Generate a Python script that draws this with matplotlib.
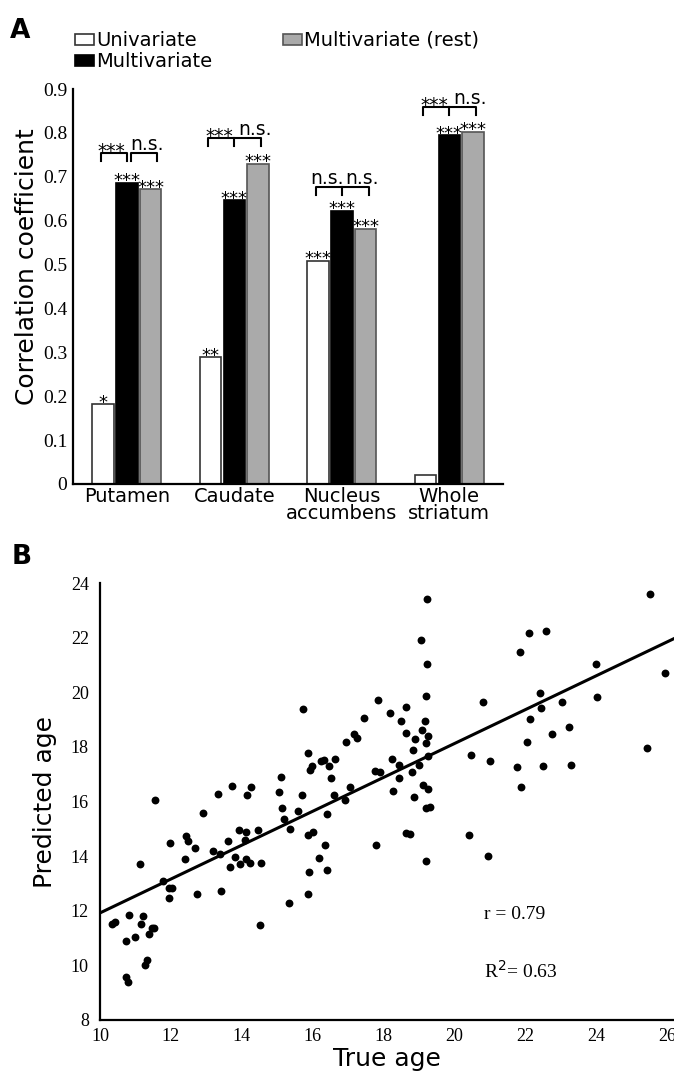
import numpy as np
import matplotlib
matplotlib.use('Agg')
import matplotlib.pyplot as plt

# ---- panel A data ----
regions = ['Putamen', 'Caudate', 'Nucleus\naccumbens', 'Whole\nstriatum']
uni = [0.182, 0.289, 0.509, 0.020]
multi = [0.686, 0.647, 0.623, 0.795]
rest = [0.672, 0.730, 0.582, 0.802]
uni_sig = ['*', '**', '***', '']
multi_sig = ['***', '***', '***', '***']
rest_sig = ['***', '***', '***', '***']
# comparison labels (uni vs multi, multi vs rest)
cmp_left = ['***', '***', 'n.s.', '***']
cmp_right = ['n.s.', 'n.s.', 'n.s.', 'n.s.']
bracket_top = [0.754, 0.788, 0.677, 0.859]

# ---- panel B data ----
true_age = [10.35, 10.41, 10.82, 10.72, 10.98, 11.21, 11.17, 11.37, 11.46, 11.53,
            11.32, 11.28, 10.74, 10.80, 11.14, 11.54, 11.79, 11.97, 11.95, 12.04,
            11.95, 12.39, 12.42, 12.49, 12.68, 12.74, 12.92, 13.18, 13.39, 13.33,
            13.42, 13.61, 13.72, 13.81, 13.66, 13.92, 14.13, 14.08, 13.96, 14.13,
            14.23, 14.16, 14.26, 14.45, 14.53, 14.51, 15.06, 15.12, 15.13, 15.19,
            15.37, 15.34, 15.59, 15.70,
            15.72, 15.86, 15.98, 15.94, 16.23, 16.33, 16.47, 16.63, 16.52, 16.94,
            17.16, 17.26, 17.44, 17.85, 18.19, 18.49, 18.65, 18.65, 18.90, 18.82,
            18.23, 17.76, 17.89, 18.45, 18.99, 18.80, 19.24, 19.06, 19.24, 19.20,
            19.16, 19.08, 19.25, 19.20, 19.25, 20.47, 20.80, 21.00,
            18.43, 18.28, 17.05, 16.91, 16.61, 16.40, 15.86, 16.00, 16.36, 16.18,
            15.89, 16.40, 15.88, 17.80, 19.12, 19.27, 18.87, 19.20, 19.31, 18.65,
            18.74, 19.20, 20.41, 20.96,
            25.53, 22.11, 22.58, 21.85, 24.01, 25.96, 22.41, 22.44, 23.05, 24.04,
            22.13, 23.23, 22.76, 22.05, 21.77, 22.51, 23.28, 21.89, 25.43]
pred_age = [11.50, 11.57, 11.85, 10.89, 11.03, 11.79, 11.50, 11.14, 11.37, 11.37,
            10.21, 10.01, 9.57, 9.40, 13.71, 16.05, 13.09, 14.49, 12.85, 12.85,
            12.46, 13.88, 14.73, 14.57, 14.31, 12.60, 15.58, 14.19, 14.08, 16.28,
            12.72, 14.54, 16.57, 13.97, 13.62, 14.97, 14.90, 14.60, 13.72, 13.91,
            13.74, 16.25, 16.52, 14.94, 13.76, 11.46, 16.33, 16.90, 15.76, 15.35,
            15.01, 12.29, 15.67, 16.24,
            19.37, 17.78, 17.31, 17.15, 17.50, 17.51, 17.29, 17.57, 16.85, 18.19,
            18.47, 18.32, 19.04, 19.73, 19.24, 18.93, 19.47, 18.49, 18.28, 17.88,
            17.55, 17.13, 17.09, 17.33, 17.33, 17.09, 23.43, 21.90, 21.04, 19.85,
            18.96, 18.63, 18.40, 18.16, 17.67, 17.71, 19.64, 17.48,
            16.87, 16.38, 16.53, 16.04, 16.25, 15.56, 14.79, 14.90, 14.40, 13.93,
            13.43, 13.51, 12.63, 14.40, 16.61, 16.44, 16.18, 15.78, 15.79, 14.85,
            14.82, 13.83, 14.79, 13.99,
            23.59, 22.18, 22.23, 21.49, 21.04, 20.71, 19.99, 19.41, 19.65, 19.84,
            19.02, 18.72, 18.47, 18.18, 17.26, 17.29, 17.35, 16.53, 17.96]
fit_slope = 0.62
fit_intercept = 5.72
r_value = 0.79
r2_value = 0.63

serif = ['Liberation Serif', 'DejaVu Serif']

fig = plt.figure(figsize=(6.74, 10.72), dpi=100)

# ================= panel A =================
ax = fig.add_axes([73/674, 1 - 484/1072, 430/674, 395/1072])
x = np.arange(len(regions))
off = 0.222
w = 0.2
b1 = ax.bar(x - off, uni, w, color='white', edgecolor='#333333', lw=1.2, label='Univariate')
b2 = ax.bar(x, multi, w, color='black', edgecolor='black', lw=1.2, label='Multivariate')
b3 = ax.bar(x + off, rest, w, color='#aaaaaa', edgecolor='#555555', lw=1.2,
            label='Multivariate (rest)')

for xs, vals, sig in [(x - off, uni, uni_sig), (x, multi, multi_sig), (x + off, rest, rest_sig)]:
    for xi, v, s in zip(xs, vals, sig):
        if s:
            ax.annotate(s, (xi, v), xytext=(0, -2.5), textcoords='offset points',
                        ha='center', va='baseline', fontsize=13)

blw = 1.5
leg = 0.018
for i in range(len(regions)):
    top = bracket_top[i]
    if i == 0:
        # two separate brackets for putamen
        ax.plot([i - 0.24, i - 0.24, i, i], [top - leg, top, top, top - leg],
                color='black', lw=blw)
        ax.plot([i + 0.04, i + 0.04, i + 0.28, i + 0.28], [top - leg, top, top, top - leg],
                color='black', lw=blw)
    else:
        ax.plot([i - 0.24, i - 0.24, i + 0.25, i + 0.25], [top - leg, top, top, top - leg],
                color='black', lw=blw)
        ax.plot([i, i], [top, top - leg], color='black', lw=blw)
    for dx, s in [(-0.14, cmp_left[i]), (0.19, cmp_right[i])]:
        dy = -3 if s.startswith('*') else 2
        ax.annotate(s, (i + dx, top), xytext=(0, dy), textcoords='offset points',
                    ha='center', va='baseline', fontsize=13.5)

ax.set_xlim(-0.5, 3.5)
ax.set_ylim(0, 0.9)
ax.set_yticks(np.arange(0, 0.91, 0.1))
ax.set_yticklabels(['0'] + ['%.1f' % v for v in np.arange(0.1, 0.91, 0.1)],
                   family=serif, fontsize=14)
ax.set_xticks(x)
ax.set_xticklabels(regions, fontsize=14, linespacing=0.85)
ax.tick_params(axis='both', length=0)
ax.tick_params(axis='y', pad=4)
ax.tick_params(axis='x', pad=2)
ax.spines['top'].set_visible(False)
ax.spines['right'].set_visible(False)
for sp in ['left', 'bottom']:
    ax.spines[sp].set_linewidth(1.6)
ax.set_ylabel('Correlation coefficient', fontsize=18)
ax.yaxis.set_label_coords(-0.08, 0.55)

fig.legend(handles=[b1, b2, b3], ncol=2, loc='upper left',
           bbox_to_anchor=(75/674, 1 - 31/1072), frameon=False, fontsize=14,
           handlelength=1.0, handleheight=0.5, handletextpad=0.1,
           columnspacing=3.6, labelspacing=0.12, borderpad=0, borderaxespad=0)

fig.text(10/674, 1 - 38/1072, 'A', fontsize=19, fontweight='heavy', va='baseline')
fig.text(12/674, 1 - 564/1072, 'B', fontsize=19, fontweight='heavy', va='baseline')

# ================= panel B =================
bx = fig.add_axes([100/674, 1 - 1020/1072, 574/674, 437/1072])
bx.scatter(true_age, pred_age, s=32, color='black', zorder=3, linewidths=0)
xl = np.array([10, 26.2])
bx.plot(xl, fit_intercept + fit_slope * xl, color='black', lw=2.2, zorder=2)
bx.set_xlim(10, 26.2)
bx.set_ylim(8, 24)
bx.set_xticks(np.arange(10, 27, 2))
bx.set_yticks(np.arange(8, 25, 2))
for lab in bx.get_xticklabels() + bx.get_yticklabels():
    lab.set_family(serif)
    lab.set_fontsize(13)
bx.tick_params(axis='both', length=0)
bx.tick_params(axis='y', pad=8)
bx.tick_params(axis='x', pad=6)
bx.spines['top'].set_visible(False)
bx.spines['right'].set_visible(False)
for sp in ['left', 'bottom']:
    bx.spines[sp].set_linewidth(1.6)
bx.set_xlabel('True age', fontsize=18, labelpad=1)
bx.set_ylabel('Predicted age', fontsize=18)
bx.yaxis.set_label_coords(-0.075, 0.5)

bx.text(20.85, 11.85, 'r = %.2f' % r_value, family=serif, fontsize=14, va='center')
bx.text(20.85, 9.8, 'R$^2$= %.2f' % r2_value, family=serif, fontsize=14, va='center')

fig.savefig('out.png', dpi=100)
